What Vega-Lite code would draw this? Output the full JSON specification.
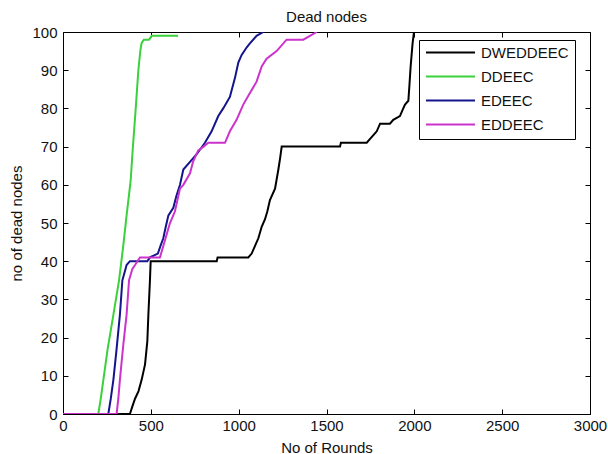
{
  "$schema": "https://vega.github.io/schema/vega-lite/v6.json",
  "width": 527,
  "height": 382,
  "autosize": "none",
  "padding": {"left": 63, "top": 32, "right": 18, "bottom": 40},
  "background": "white",
  "data": {"values": [
    {"s":"DWEDDEEC","x":0,"y":0},{"s":"DWEDDEEC","x":381,"y":0},{"s":"DWEDDEEC","x":395,"y":2},{"s":"DWEDDEEC","x":410,"y":4},{"s":"DWEDDEEC","x":430,"y":6},{"s":"DWEDDEEC","x":448,"y":9},{"s":"DWEDDEEC","x":467,"y":13},{"s":"DWEDDEEC","x":480,"y":19},{"s":"DWEDDEEC","x":486,"y":26},{"s":"DWEDDEEC","x":495,"y":35},{"s":"DWEDDEEC","x":499,"y":40},{"s":"DWEDDEEC","x":875,"y":40},{"s":"DWEDDEEC","x":880,"y":41},{"s":"DWEDDEEC","x":1055,"y":41},{"s":"DWEDDEEC","x":1074,"y":42},{"s":"DWEDDEEC","x":1093,"y":44},{"s":"DWEDDEEC","x":1112,"y":46},{"s":"DWEDDEEC","x":1131,"y":49},{"s":"DWEDDEEC","x":1150,"y":51},{"s":"DWEDDEEC","x":1163,"y":53},{"s":"DWEDDEEC","x":1178,"y":56},{"s":"DWEDDEEC","x":1207,"y":59},{"s":"DWEDDEEC","x":1226,"y":64},{"s":"DWEDDEEC","x":1236,"y":67},{"s":"DWEDDEEC","x":1245,"y":70},{"s":"DWEDDEEC","x":1577,"y":70},{"s":"DWEDDEEC","x":1582,"y":71},{"s":"DWEDDEEC","x":1729,"y":71},{"s":"DWEDDEEC","x":1748,"y":72},{"s":"DWEDDEEC","x":1767,"y":73},{"s":"DWEDDEEC","x":1786,"y":74},{"s":"DWEDDEEC","x":1805,"y":76},{"s":"DWEDDEEC","x":1861,"y":76},{"s":"DWEDDEEC","x":1880,"y":77},{"s":"DWEDDEEC","x":1918,"y":78},{"s":"DWEDDEEC","x":1937,"y":80},{"s":"DWEDDEEC","x":1947,"y":81},{"s":"DWEDDEEC","x":1966,"y":82},{"s":"DWEDDEEC","x":1972,"y":86},{"s":"DWEDDEEC","x":1979,"y":91},{"s":"DWEDDEEC","x":1990,"y":97},{"s":"DWEDDEEC","x":1998,"y":100},
    {"s":"DDEEC","x":0,"y":0},{"s":"DDEEC","x":201,"y":0},{"s":"DDEEC","x":215,"y":4},{"s":"DDEEC","x":230,"y":9},{"s":"DDEEC","x":254,"y":17},{"s":"DDEEC","x":287,"y":26},{"s":"DDEEC","x":319,"y":35},{"s":"DDEEC","x":343,"y":44},{"s":"DDEEC","x":362,"y":52},{"s":"DDEEC","x":385,"y":61},{"s":"DDEEC","x":398,"y":70},{"s":"DDEEC","x":414,"y":80},{"s":"DDEEC","x":429,"y":90},{"s":"DDEEC","x":440,"y":95},{"s":"DDEEC","x":447,"y":97},{"s":"DDEEC","x":460,"y":98},{"s":"DDEEC","x":490,"y":98},{"s":"DDEEC","x":505,"y":99},{"s":"DDEEC","x":655,"y":99},
    {"s":"EDEEC","x":0,"y":0},{"s":"EDEEC","x":258,"y":0},{"s":"EDEEC","x":272,"y":4},{"s":"EDEEC","x":287,"y":9},{"s":"EDEEC","x":305,"y":17},{"s":"EDEEC","x":324,"y":26},{"s":"EDEEC","x":338,"y":35},{"s":"EDEEC","x":350,"y":37},{"s":"EDEEC","x":362,"y":39},{"s":"EDEEC","x":381,"y":40},{"s":"EDEEC","x":480,"y":40},{"s":"EDEEC","x":495,"y":41},{"s":"EDEEC","x":540,"y":42},{"s":"EDEEC","x":555,"y":44},{"s":"EDEEC","x":571,"y":46},{"s":"EDEEC","x":585,"y":49},{"s":"EDEEC","x":600,"y":52},{"s":"EDEEC","x":628,"y":54},{"s":"EDEEC","x":645,"y":57},{"s":"EDEEC","x":666,"y":60},{"s":"EDEEC","x":685,"y":64},{"s":"EDEEC","x":723,"y":66},{"s":"EDEEC","x":761,"y":68},{"s":"EDEEC","x":808,"y":71},{"s":"EDEEC","x":846,"y":74},{"s":"EDEEC","x":884,"y":78},{"s":"EDEEC","x":912,"y":80},{"s":"EDEEC","x":950,"y":83},{"s":"EDEEC","x":979,"y":88},{"s":"EDEEC","x":998,"y":92},{"s":"EDEEC","x":1017,"y":94},{"s":"EDEEC","x":1046,"y":96},{"s":"EDEEC","x":1064,"y":97},{"s":"EDEEC","x":1102,"y":99},{"s":"EDEEC","x":1140,"y":100},
    {"s":"EDDEEC","x":0,"y":0},{"s":"EDDEEC","x":305,"y":0},{"s":"EDDEEC","x":315,"y":4},{"s":"EDDEEC","x":324,"y":9},{"s":"EDDEEC","x":343,"y":18},{"s":"EDDEEC","x":362,"y":26},{"s":"EDDEEC","x":376,"y":35},{"s":"EDDEEC","x":395,"y":38},{"s":"EDDEEC","x":410,"y":39},{"s":"EDDEEC","x":438,"y":41},{"s":"EDDEEC","x":552,"y":41},{"s":"EDDEEC","x":571,"y":44},{"s":"EDDEEC","x":590,"y":47},{"s":"EDDEEC","x":609,"y":50},{"s":"EDDEEC","x":637,"y":53},{"s":"EDDEEC","x":666,"y":59},{"s":"EDDEEC","x":685,"y":60},{"s":"EDDEEC","x":723,"y":63},{"s":"EDDEEC","x":740,"y":66},{"s":"EDDEEC","x":770,"y":69},{"s":"EDDEEC","x":800,"y":70},{"s":"EDDEEC","x":827,"y":71},{"s":"EDDEEC","x":922,"y":71},{"s":"EDDEEC","x":950,"y":74},{"s":"EDDEEC","x":988,"y":77},{"s":"EDDEEC","x":1026,"y":81},{"s":"EDDEEC","x":1064,"y":84},{"s":"EDDEEC","x":1102,"y":87},{"s":"EDDEEC","x":1131,"y":91},{"s":"EDDEEC","x":1159,"y":93},{"s":"EDDEEC","x":1216,"y":95},{"s":"EDDEEC","x":1273,"y":98},{"s":"EDDEEC","x":1368,"y":98},{"s":"EDDEEC","x":1406,"y":99},{"s":"EDDEEC","x":1444,"y":100}
  ]},
  "layer": [
    {
      "mark": {"type": "line", "strokeWidth": 2, "interpolate": "linear", "clip": true},
      "encoding": {
        "x": {"field": "x", "type": "quantitative", "scale": {"domain": [0, 3000], "nice": false, "zero": false},
              "axis": {"orient": "bottom", "values": [0,500,1000,1500,2000,2500,3000], "format": "d", "title": "No of Rounds", "titleBaseline": "alphabetic", "titleY": 38}},
        "y": {"field": "y", "type": "quantitative", "scale": {"domain": [0, 100], "nice": false},
              "axis": {"orient": "left", "values": [0,10,20,30,40,50,60,70,80,90,100], "format": "d", "title": "no of dead nodes", "titleBaseline": "alphabetic", "titleX": -42, "labelPadding": 11}},
        "color": {"field": "s", "type": "nominal",
                  "scale": {"domain": ["DWEDDEEC","DDEEC","EDEEC","EDDEEC"], "range": ["#000000","#3ad13a","#14148c","#cc33cc"]},
                  "legend": {"title": null, "orient": "none", "legendX": 356, "legendY": 8, "symbolType": "stroke", "symbolSize": 2401, "symbolStrokeWidth": 2, "clipHeight": 13, "rowPadding": 8, "padding": 6, "labelOffset": 5, "labelFontSize": 15, "labelFont": "Liberation Sans", "labelColor": "#111", "strokeColor": "#000", "fillColor": "#fff"}}
      }
    },
    {
      "mark": {"type": "point", "opacity": 0},
      "encoding": {
        "x": {"field": "x", "type": "quantitative", "scale": {"domain": [0, 3000], "nice": false, "zero": false},
              "axis": {"orient": "top", "values": [0,500,1000,1500,2000,2500,3000], "labels": false, "title": "Dead nodes", "titleBaseline": "alphabetic", "titleY": -11, "titleX": 263, "titleAlign": "center", "minExtent": 0}},
        "y": {"field": "y", "type": "quantitative", "scale": {"domain": [0, 100], "nice": false},
              "axis": {"orient": "right", "values": [0,10,20,30,40,50,60,70,80,90,100], "labels": false, "title": null, "minExtent": 0}}
      }
    }
  ],
  "resolve": {"axis": {"x": "independent", "y": "independent"}},
  "config": {
    "view": {"stroke": null},
    "axis": {"grid": false, "domainColor": "#000", "domainWidth": 1, "tickColor": "#000", "tickSize": -5, "labelPadding": 9, "labelFlush": false, "labelOverlap": false, "labelFont": "Liberation Sans", "labelFontSize": 15, "labelColor": "#111", "titleFont": "Liberation Sans", "titleFontSize": 15, "titleFontWeight": "normal", "titleColor": "#111"}
  }
}
